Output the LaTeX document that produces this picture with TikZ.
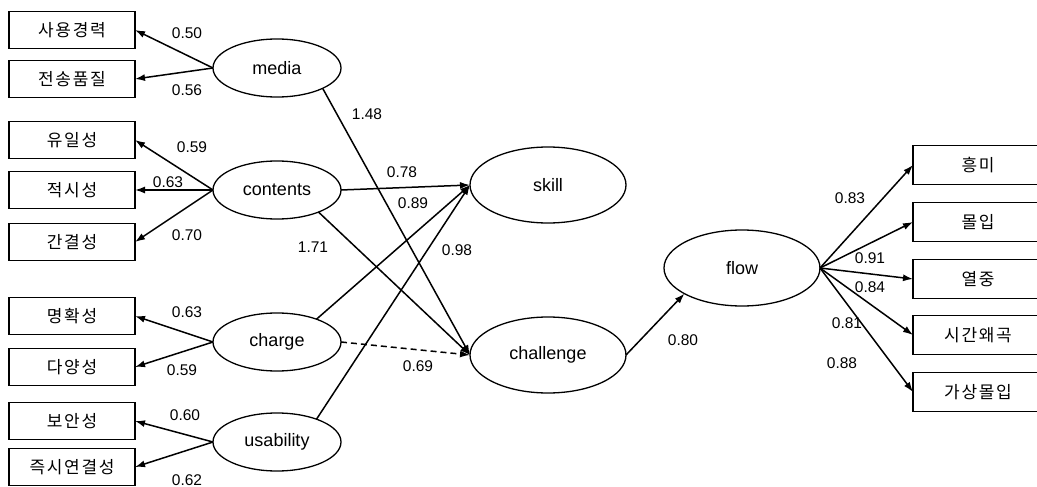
\documentclass[tikz,border=0pt]{standalone}
\usepackage{fontspec}
\setmainfont{Liberation Sans}
\newfontfamily\kr[LetterSpace=10]{Noto Sans CJK KR}
\usetikzlibrary{arrows.meta,shapes.geometric}
\begin{document}
\begin{tikzpicture}[x=1pt,y=-1pt,
  every node/.style={inner sep=0pt, outer sep=0pt},
  obs/.style={draw, line width=1.5pt, minimum width=126pt, minimum height=37pt,
    font=\kr\fontsize{17}{20}\selectfont},
  obsr/.style={obs, minimum width=130pt, minimum height=39pt},
  lat/.style={draw, ellipse, line width=1.3pt, minimum width=128pt, minimum height=58pt,
    font=\fontsize{18}{21}\selectfont},
  latb/.style={lat, minimum width=156pt, minimum height=76pt},
  coef/.style={font=\fontsize{15.5}{18}\selectfont},
  link/.style={line width=1.5pt, -{Latex[length=10pt,width=7pt]}},
]
\useasboundingbox (0,0) rectangle (1037,487);

% indicators of the exogenous factors
\node[obs] (o1) at (72,30)  {사용경력};
\node[obs] (o2) at (72,79)  {전송품질};
\node[obs] (o3) at (72,140) {유일성};
\node[obs] (o4) at (72,190) {적시성};
\node[obs] (o5) at (72,242) {간결성};
\node[obs] (o6) at (72,316) {명확성};
\node[obs] (o7) at (72,367) {다양성};
\node[obs] (o8) at (72,421) {보안성};
\node[obs] (o9) at (72,467) {즉시연결성};

% latent factors
\node[lat] (media)     at (277,68)  {media};
\node[lat] (contents)  at (277,190) {contents};
\node[lat] (charge)    at (277,342) {charge};
\node[lat] (usability) at (277,442) {usability};
\node[latb] (skill)     at (548,185) {skill};
\node[latb] (challenge) at (548,355) {challenge};
\node[latb] (flow)      at (742,268) {flow};

% indicators of flow
\node[obsr] (f1) at (978,165) {흥미};
\node[obsr] (f2) at (978,222) {몰입};
\node[obsr] (f3) at (978,279) {열중};
\node[obsr] (f4) at (978,335) {시간왜곡};
\node[obsr] (f5) at (978,392) {가상몰입};

% measurement paths
\draw[link] (media.west) -- (o1.east);
\draw[link] (media.west) -- (o2.east);
\draw[link] (contents.west) -- (o3.east);
\draw[link] (contents.west) -- (o4.east);
\draw[link] (contents.west) -- (o5.east);
\draw[link] (charge.west) -- (o6.east);
\draw[link] (charge.west) -- (o7.east);
\draw[link] (usability.west) -- (o8.east);
\draw[link] (usability.west) -- (o9.east);
\draw[link] (flow.east) -- (f1.west);
\draw[link] (flow.east) -- (f2.west);
\draw[link] (flow.east) -- (f3.west);
\draw[link] (flow.east) -- (f4.west);
\draw[link] (flow.east) -- (f5.west);

% structural paths
\draw[link] (media.-24) -- (challenge.west);
\draw[link] (contents.east) -- (skill.west);
\draw[link] (contents.-28) -- (challenge.west);
\draw[link] (charge.30) -- (skill.west);
\draw[link, dash pattern=on 6pt off 4pt] (charge.east) -- (challenge.west);
\draw[link] (usability.30) -- (skill.west);
\draw[link] (challenge.east) -- (flow.204);

% coefficients
\node[coef] (c1)  at (187,33)  {0.50};
\node[coef] (c2)  at (187,90)  {0.56};
\node[coef] (c3)  at (192,147) {0.59};
\node[coef] (c4)  at (168,182) {0.63};
\node[coef] (c5)  at (187,235) {0.70};
\node[coef] (c6)  at (313,247) {1.71};
\node[coef] (c7)  at (187,312) {0.63};
\node[coef] (c8)  at (182,370) {0.59};
\node[coef] (c9)  at (185,415) {0.60};
\node[coef] (c10) at (187,480) {0.62};
\node[coef] (c11) at (367,114) {1.48};
\node[coef] (c12) at (402,172) {0.78};
\node[coef] (c13) at (413,203) {0.89};
\node[coef] (c14) at (457,250) {0.98};
\node[coef] (c15) at (418,366) {0.69};
\node[coef] (c16) at (683,340) {0.80};
\node[coef] (c17) at (850,198) {0.83};
\node[coef] (c18) at (870,258) {0.91};
\node[coef] (c19) at (870,287) {0.84};
\node[coef] (c20) at (847,323) {0.81};
\node[coef] (c21) at (842,363) {0.88};
\end{tikzpicture}
\end{document}
